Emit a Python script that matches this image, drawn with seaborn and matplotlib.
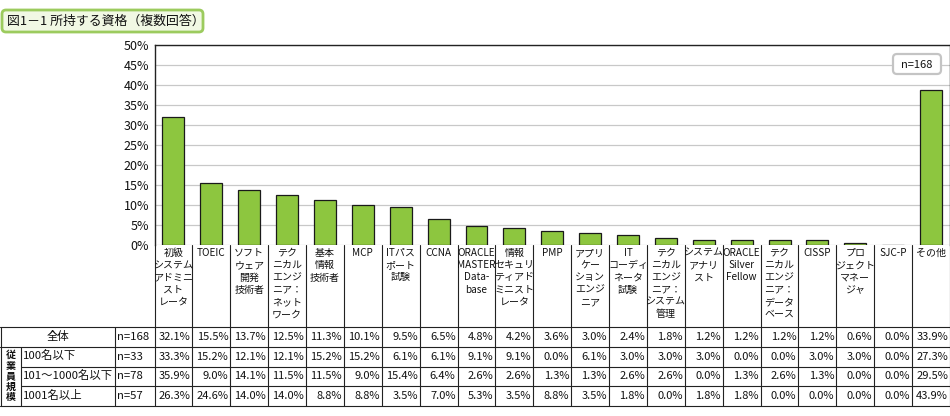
import numpy as np
import pandas as pd
import matplotlib
matplotlib.use("Agg")
import matplotlib.pyplot as plt
import seaborn as sns
from matplotlib.patches import FancyBboxPatch

# ---------------- data ----------------
categories = [
    "初級\nシステム\nアドミニ\nスト\nレータ",
    "TOEIC",
    "ソフト\nウェア\n開発\n技術者",
    "テク\nニカル\nエンジ\nニア：\nネット\nワーク",
    "基本\n情報\n技術者",
    "MCP",
    "ITパス\nポート\n試験",
    "CCNA",
    "ORACLE\nMASTER\nData-\nbase",
    "情報\nセキュリ\nティアド\nミニスト\nレータ",
    "PMP",
    "アプリ\nケー\nション\nエンジ\nニア",
    "IT\nコーディ\nネータ\n試験",
    "テク\nニカル\nエンジ\nニア：\nシステム\n管理",
    "システム\nアナリ\nスト",
    "ORACLE\nSilver\nFellow",
    "テク\nニカル\nエンジ\nニア：\nデータ\nベース",
    "CISSP",
    "プロ\nジェクト\nマネー\nジャ",
    "SJC-P",
    "その他",
]
# bar heights as drawn in the chart (%)
bar_values = [32.1, 15.5, 13.7, 12.5, 11.3, 10.1, 9.5, 6.5, 4.8, 4.2, 3.6,
              3.0, 2.4, 1.8, 1.2, 1.2, 1.2, 1.2, 0.6, 0.0, 38.7]
# table rows (%)
table_all = [32.1, 15.5, 13.7, 12.5, 11.3, 10.1, 9.5, 6.5, 4.8, 4.2, 3.6,
             3.0, 2.4, 1.8, 1.2, 1.2, 1.2, 1.2, 0.6, 0.0, 33.9]
table_le100 = [33.3, 15.2, 12.1, 12.1, 15.2, 15.2, 6.1, 6.1, 9.1, 9.1, 0.0,
               6.1, 3.0, 3.0, 3.0, 0.0, 0.0, 3.0, 3.0, 0.0, 27.3]
table_101_1000 = [35.9, 9.0, 14.1, 11.5, 11.5, 9.0, 15.4, 6.4, 2.6, 2.6, 1.3,
                  1.3, 2.6, 2.6, 0.0, 1.3, 2.6, 1.3, 0.0, 0.0, 29.5]
table_ge1001 = [26.3, 24.6, 14.0, 14.0, 8.8, 8.8, 3.5, 7.0, 5.3, 3.5, 8.8,
                3.5, 1.8, 0.0, 1.8, 1.8, 0.0, 0.0, 0.0, 0.0, 43.9]
row_labels = ["全体", "100名以下", "101～1000名以下", "1001名以上"]
row_n = ["n=168", "n=33", "n=78", "n=57"]
group_label = "従業員規模"
yticks = [0, 5, 10, 15, 20, 25, 30, 35, 40, 45, 50]
title_text = "図1－1 所持する資格（複数回答）"
n_label = "n=168"

# ---------------- style ----------------
sns.set_theme(style="white")
plt.rcParams['font.family'] = ['Noto Sans CJK JP', 'DejaVu Sans']

W, H = 950, 416
fig = plt.figure(figsize=(W / 100, H / 100), dpi=100)
fig.patch.set_facecolor("white")

L, R, T, B = 154.5, 950.0, 45.0, 245.0
ncat = len(categories)
colw = (R - L) / ncat
line_c = "#222222"
txt_c = "#111111"

ax = fig.add_axes([L / W, 1 - B / H, (R - L) / W, (B - T) / H])
df = pd.DataFrame({"cat": [c.replace("\n", "") for c in categories], "val": bar_values})
sns.barplot(data=df, x="cat", y="val", color="#8DC63F", saturation=1,
            width=0.58, edgecolor="#1a1a1a", linewidth=0.9, ax=ax)
ax.set_xlim(-0.5, ncat - 0.5)
ax.set_ylim(0, 50)
ax.set_yticks(yticks)
ax.set_yticklabels([f"{v}%" for v in yticks], fontsize=9, color=txt_c)
ax.set_xticks([])
ax.set_xlabel("")
ax.set_ylabel("")
ax.yaxis.grid(True, color="#c8c8c8", lw=0.9)
ax.set_axisbelow(True)
ax.tick_params(axis="y", length=0, pad=4)
for s in ["top", "left", "right"]:
    ax.spines[s].set_visible(True)
    ax.spines[s].set_color(line_c)
    ax.spines[s].set_linewidth(1.0)
ax.spines["bottom"].set_visible(False)
ax.set_facecolor("white")

# overlay in pixel coordinates
ov = fig.add_axes([0, 0, 1, 1])
ov.set_xlim(0, W)
ov.set_ylim(H, 0)
ov.axis("off")
ov.patch.set_alpha(0)

lw = 0.8
# title box
ov.add_patch(FancyBboxPatch((2, 10), 201, 22, boxstyle="round,pad=0,rounding_size=4",
                            facecolor="#F1F8E4", edgecolor="#9CCB5E", lw=2))
ov.text(7, 21.5, title_text, fontsize=9.3, va="center", ha="left", color=txt_c)

# n=168 box
ov.add_patch(FancyBboxPatch((893, 54), 48, 20, boxstyle="round,pad=0,rounding_size=4",
                            facecolor="white", edgecolor="#c4c4c4", lw=1.6))
ov.text(917, 64.5, n_label, fontsize=8, va="center", ha="center", color=txt_c)

# table geometry
rows_y = [326.5, 346.5, 366.5, 386.0, 405.5]
xcols = [L + i * colw for i in range(ncat + 1)]

# header (category labels)
for i in range(ncat + 1):
    ov.plot([xcols[i], xcols[i]], [B, rows_y[-1]], color=line_c, lw=lw)
for i, cat in enumerate(categories):
    ov.text(L + (i + 0.5) * colw, 248, cat, fontsize=7.2, ha="center", va="top",
            linespacing=1.28, color=txt_c)

# horizontal lines
ov.plot([0, W], [rows_y[0], rows_y[0]], color=line_c, lw=lw)
ov.plot([0, W], [rows_y[1], rows_y[1]], color=line_c, lw=lw)
ov.plot([20.5, W], [rows_y[2], rows_y[2]], color=line_c, lw=lw)
ov.plot([20.5, W], [rows_y[3], rows_y[3]], color=line_c, lw=lw)
ov.plot([0, W], [rows_y[4], rows_y[4]], color=line_c, lw=lw)
# vertical lines on left
ov.plot([0.8, 0.8], [rows_y[0], rows_y[4]], color=line_c, lw=lw)
ov.plot([20.5, 20.5], [rows_y[1], rows_y[4]], color=line_c, lw=lw)
ov.plot([115, 115], [rows_y[0], rows_y[4]], color=line_c, lw=lw)

rows = [table_all, table_le100, table_101_1000, table_ge1001]
for r, vals in enumerate(rows):
    yc = (rows_y[r] + rows_y[r + 1]) / 2
    if r == 0:
        ov.text(57.5, yc, row_labels[r], fontsize=8.2, ha="center", va="center", color=txt_c)
    else:
        ov.text(22.5, yc, row_labels[r], fontsize=8.2, ha="left", va="center", color=txt_c)
    ov.text(117, yc, row_n[r], fontsize=8.2, ha="left", va="center", color=txt_c)
    for i, v in enumerate(vals):
        ov.text(xcols[i + 1] - 2, yc, f"{v:.1f}%", fontsize=8, ha="right", va="center",
                color=txt_c)

# vertical group label, one character per line
g_top, g_bot = 355.0, 397.0
for k, ch in enumerate(group_label):
    yk = g_top + k * (g_bot - g_top) / (len(group_label) - 1)
    ov.text(10.5, yk, ch, fontsize=7.2, ha="center", va="center", color=txt_c,
            fontweight="bold")

fig.savefig("out.png", dpi=100, facecolor="white")
